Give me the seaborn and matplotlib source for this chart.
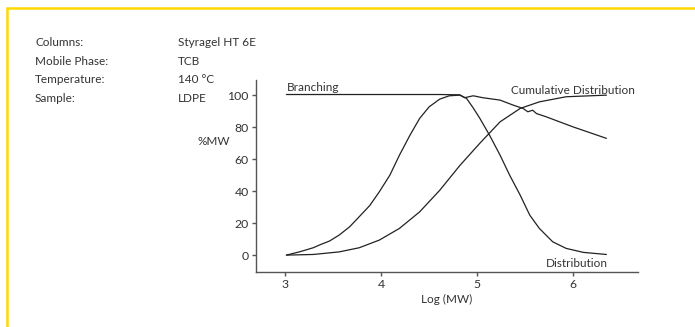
import numpy as np
import pandas as pd
import matplotlib.pyplot as plt
from matplotlib.lines import Line2D
import seaborn as sns

# Log(MW) vs %MW curves
dist_x = [3.01, 3.15, 3.29, 3.37, 3.46, 3.56, 3.67, 3.77, 3.88, 3.98, 4.09, 4.19, 4.30,
          4.40, 4.50, 4.61, 4.71, 4.82, 4.89, 4.96, 5.03, 5.13, 5.24, 5.34, 5.45, 5.55,
          5.65, 5.79, 5.93, 6.11, 6.35]
dist_y = [0.0, 2.1, 4.6, 6.7, 8.8, 12.5, 17.7, 24.0, 31.0, 39.6, 50.0, 62.5, 75.0,
          85.4, 92.7, 97.5, 99.6, 100.0, 98.0, 92.0, 85.4, 75.0, 62.5, 50.0, 37.5, 25.0,
          16.7, 8.3, 4.2, 1.7, 0.4]

cum_x = [3.01, 3.29, 3.56, 3.77, 3.98, 4.19, 4.40, 4.61, 4.82, 5.03, 5.24, 5.45, 5.65,
         5.93, 6.35]
cum_y = [0.0, 0.4, 2.0, 4.6, 9.4, 16.7, 27.0, 40.5, 56.0, 70.0, 83.3, 91.7, 95.8,
         99.0, 100.0]

br_x = [3.01, 4.61, 4.82, 4.87, 4.96, 5.06, 5.24, 5.38, 5.48, 5.53, 5.58, 5.62, 5.72,
        6.00, 6.35]
br_y = [100.4, 100.4, 100.2, 98.4, 99.6, 98.4, 96.9, 93.7, 91.7, 89.6, 90.6, 88.5, 86.5,
        80.2, 73.0]

x_ticks = [3, 4, 5, 6]
y_ticks = [0, 20, 40, 60, 80, 100]

info_keys = ["Columns:", "Mobile Phase:", "Temperature:", "Sample:"]
info_vals = ["Styragel HT 6E", "TCB", "140 °C", "LDPE"]

df = pd.concat([
    pd.DataFrame({"logmw": dist_x, "pct": dist_y, "curve": "Distribution"}),
    pd.DataFrame({"logmw": cum_x, "pct": cum_y, "curve": "Cumulative Distribution"}),
    pd.DataFrame({"logmw": br_x, "pct": br_y, "curve": "Branching"}),
])

sns.set_style("white")
plt.rcParams['font.family'] = ['Lato', 'DejaVu Sans']

fig = plt.figure(figsize=(6.95, 3.27), dpi=100)
ax = fig.add_axes([0.368, 0.168, 0.55, 0.587])

for name in ["Distribution", "Cumulative Distribution", "Branching"]:
    sns.lineplot(data=df[df["curve"] == name], x="logmw", y="pct", ax=ax,
                 color="#222222", linewidth=0.9, sort=False, estimator=None)

ax.set_xlim(2.69, 6.68)
ax.set_ylim(-10.6, 109.4)
ax.set_xticks(x_ticks)
ax.set_yticks(y_ticks)
ax.tick_params(axis="both", direction="out", length=3, width=1, color="#555555",
               labelsize=8.8, labelcolor="#333333", pad=2, bottom=True, left=True)
sns.despine(ax=ax)
for s in ["left", "bottom"]:
    ax.spines[s].set_color("#555555")
    ax.spines[s].set_linewidth(1)

ax.set_xlabel("Log (MW)", fontsize=8.5, color="#333333", labelpad=3)
ax.set_ylabel("")
fig.text(197 / 695, 1 - 141 / 327, "%MW", fontsize=8.5, color="#333333", va="center", ha="left")

# curve labels
ax.text(3.01, 101.5, "Branching", fontsize=8.5, color="#333333", ha="left", va="bottom")
ax.text(6.65, 99.5, "Cumulative Distribution", fontsize=8.5, color="#333333", ha="right", va="bottom")
ax.text(6.37, -1.5, "Distribution", fontsize=8.5, color="#333333", ha="right", va="top")

# sample info block
for i, (k, v) in enumerate(zip(info_keys, info_vals)):
    yy = 1 - (43 + i * 18.5) / 327
    fig.text(35 / 695, yy, k, fontsize=8.5, color="#333333", va="center", ha="left")
    fig.text(178 / 695, yy, v, fontsize=8.5, color="#333333", va="center", ha="left")

# yellow frame along top and left
fig.add_artist(Line2D([7 / 695, 1], [1 - 8 / 327, 1 - 8 / 327], color="#FFD800", linewidth=1.8))
fig.add_artist(Line2D([7 / 695, 7 / 695], [0, 1 - 8 / 327], color="#FFD800", linewidth=1.8))

fig.savefig("out.png", dpi=100)
